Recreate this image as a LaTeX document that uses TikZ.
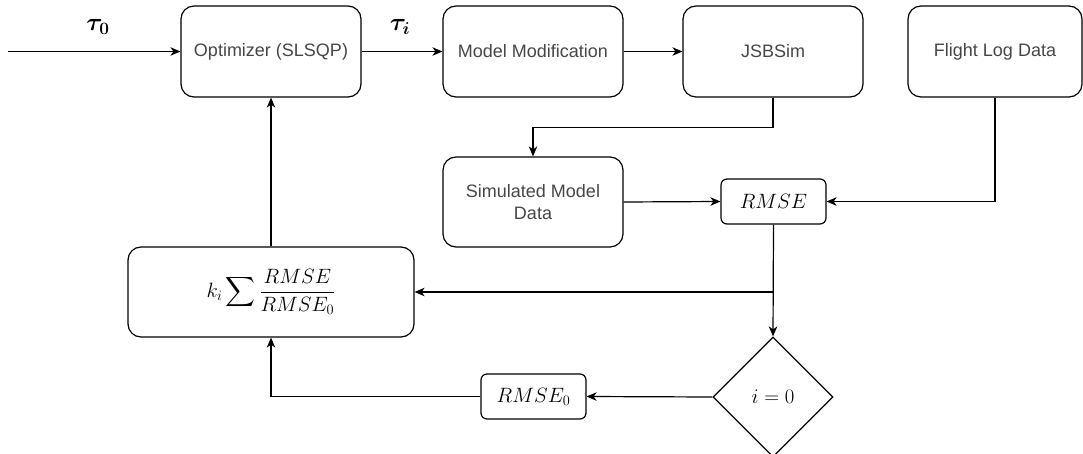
\documentclass[tikz,border=0pt]{standalone}
\usepackage{amsmath}
\usepackage{bm}
\usepackage{fontspec}
\setsansfont{Liberation Sans}
\usetikzlibrary{arrows.meta,shapes.geometric}
\definecolor{labelgray}{RGB}{70,70,70}
\tikzset{
  flow/.style={draw=black, line width=1.2pt, rounded corners=13pt, align=center,
    minimum width=180pt, minimum height=91pt, inner sep=2pt,
    font=\sffamily\fontsize{18}{22}\selectfont, text=labelgray},
  smallbox/.style={draw=black, line width=1.2pt, rounded corners=6pt,
    minimum width=105pt, minimum height=45pt, inner sep=2pt,
    font=\fontsize{21}{25}\selectfont},
  decision/.style={draw=black, line width=1.2pt, diamond, aspect=1, inner sep=0pt,
    minimum width=120pt, minimum height=120pt, font=\fontsize{21}{25}\selectfont},
  link/.style={line width=1.2pt, -{Stealth[length=10pt,width=8.5pt,inset=3pt]}},
  edgelabel/.style={font=\fontsize{25}{29}\selectfont},
}
\begin{document}
\begin{tikzpicture}[x=1pt, y=-1pt]
\useasboundingbox (0,0) rectangle (1083,454);

% top row of process blocks
\node[flow] (opt)  at (271,51.5) {Optimizer (SLSQP)};
\node[flow] (mod)  at (533,51.5) {Model Modification};
\node[flow] (jsb)  at (773,51.5) {JSBSim};
\node[flow, minimum width=174pt] (flog) at (995,51.5) {Flight Log Data};

% middle row
\node[flow, minimum height=90pt] (sim) at (533,202) {Simulated Model\\Data};
\node[smallbox] (rmse) at (773.5,201.5) {$RMSE$};

% cost function and initial-error check
\node[flow, minimum width=286pt, minimum height=90pt, font=\fontsize{21}{25}\selectfont, text=black]
  (cost) at (271,292) {$\displaystyle k_i\sum\frac{RMSE}{RMSE_0}$};
\node[decision] (check) at (773,397) {$i=0$};
\node[smallbox] (rmse0) at (533.5,396.5) {$RMSE_0$};

% input parameter vector
\coordinate (in) at (8,51.5);
\draw[link] (in) -- (opt.west);
\node[edgelabel] (t0) at (98,27) {$\bm{\tau_0}$};

% forward chain
\draw[link] (opt.east) -- (mod.west);
\node[edgelabel] (ti) at (400,27) {$\bm{\tau_i}$};
\draw[link] (mod.east) -- (jsb.west);
\draw[link] (jsb.south) -- ++(0,30) -| (sim.north);
\draw[link] (sim.east) -- (rmse.west);
\draw[link] (flog.south) |- (rmse.east);

% error feedback
\draw[link] (rmse.south) -- (check.north);
\coordinate (split) at (rmse.south |- cost.east);
\draw[link] (split) -- (cost.east);
\draw[link] (check.west) -- (rmse0.east);
\draw[link] (rmse0.west) -| (cost.south);
\draw[link] (cost.north) -- (opt.south);
\end{tikzpicture}
\end{document}
